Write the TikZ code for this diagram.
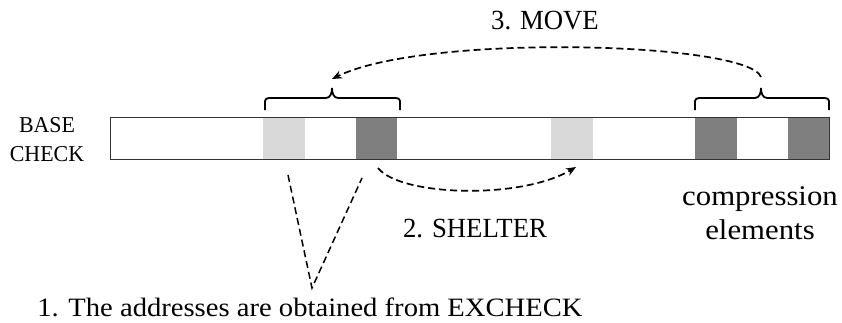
\documentclass[tikz,border=0pt]{standalone}
\usepackage{fontspec}
\setmainfont[FakeStretch=1.08]{Liberation Serif}
\newfontfamily\capsfont[FakeStretch=0.965]{Liberation Serif}
\usetikzlibrary{arrows.meta}
\definecolor{lightblk}{HTML}{D9D9D9}
\definecolor{darkblk}{HTML}{7F7F7F}
\definecolor{barline}{HTML}{333333}
\tikzset{
  blk/.style={inner sep=0pt, minimum height=42pt, minimum width=41.5pt, anchor=north west, draw=none},
  brk/.style={line width=1.8pt, black},
  dsh/.style={line width=1.7pt, dash pattern=on 7pt off 4pt},
  arr/.style={dsh, -{Stealth[length=10pt,width=8pt]}},
  lbl/.style={inner sep=0pt, align=center}
}
\begin{document}
\begin{tikzpicture}[x=1pt,y=-1pt]
\useasboundingbox (0,0) rectangle (842,322);
% blocks
\node[blk, fill=lightblk] (l1) at (263,117) {};
\node[blk, fill=darkblk]  (d1) at (355.5,117) {};
\node[blk, fill=lightblk] (l2) at (551,117) {};
\node[blk, fill=darkblk]  (d2) at (695,117) {};
\node[blk, fill=darkblk]  (d3) at (787.5,117) {};
% bar
\node[draw=barline, line width=1.4pt, inner sep=0pt, minimum width=719pt, minimum height=42pt, anchor=north west] (bar) at (110,117) {};
% brackets
\coordinate (t1) at (332,88);
\coordinate (t2) at (761,88);
\draw[brk] (265,110) -- (265,101) to[out=90,in=180] (269,98) -- (326,98) to[out=0,in=-90] (t1);
\draw[brk] (400,110) -- (400,101) to[out=90,in=0] (396,98) -- (338,98) to[out=180,in=-90] (t1);
\draw[brk] (695,110) -- (695,101) to[out=90,in=180] (699,98) -- (755,98) to[out=0,in=-90] (t2);
\draw[brk] (829,110) -- (829,101) to[out=90,in=0] (825,98) -- (767,98) to[out=180,in=-90] (t2);
% move arrow
\coordinate (ms) at (761,77);
\coordinate (me) at (332,79);
\draw[arr] (ms) .. controls (748,42) and (425,33) .. (me);
% shelter arrow
\coordinate (ss) at (378,168);
\coordinate (se) at (576,167);
\draw[arr] (ss) .. controls (400,196) and (520,200) .. (se);
% V lines
\coordinate (v1) at (288,175);
\coordinate (v2) at (362,178);
\coordinate (vx) at (312,288);
\draw[dsh, line width=1.5pt] (v1) -- (vx) -- (v2);
% labels
\node[lbl, anchor=center, font=\capsfont\fontsize{27.7}{32}\selectfont] (move) at (545,21) {3. MOVE};
\node[lbl, anchor=center, font=\capsfont\fontsize{27.7}{32}\selectfont] (shelter) at (475,229) {2. SHELTER};
\node[lbl, anchor=base, font=\fontsize{26.5}{30}\selectfont] (addr) at (310,316) {1. The addresses are obtained from EXCHECK};
\node[lbl, anchor=center, font=\capsfont\fontsize{22.7}{29}\selectfont] (base) at (47,140) {BASE\\CHECK};
\node[lbl, anchor=center, font=\fontsize{28.5}{34}\selectfont] (comp) at (760,213) {compression\\elements};
\end{tikzpicture}
\end{document}
